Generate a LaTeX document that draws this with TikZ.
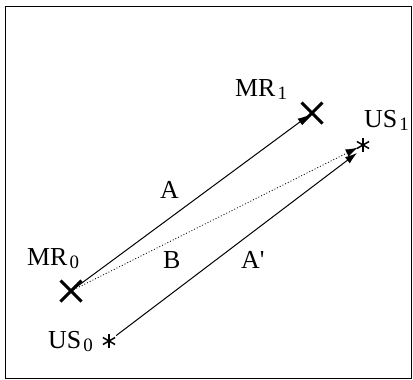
\documentclass[tikz,border=0pt]{standalone}
\usepackage{fontspec}
\setmainfont{Liberation Serif}
\usetikzlibrary{arrows.meta,shapes.misc}
\tikzset{
  crossmark/.style={cross out,draw,line width=3bp,minimum size=18bp,inner sep=0pt},
  starpt/.style={minimum size=14bp,inner sep=0pt},
  lbl/.style={anchor=base west,inner sep=0pt,font=\fontsize{26}{30}\selectfont},
  vec/.style={-{Latex[length=12bp,width=8bp]},line width=1bp},
}
\newcommand{\astr}[1]{%
  \foreach \ang in {90,30,150}
    \draw[line width=1.5bp] (#1.center) ++(\ang:7bp) -- ++(\ang+180:14bp);}
\newcommand{\idx}[1]{\kern2bp\raisebox{-3bp}{\fontsize{19}{22}\selectfont #1}}
\begin{document}
\begin{tikzpicture}[x=1bp,y=-1bp]
\useasboundingbox (0,0) rectangle (413,380);
\draw[line width=1bp] (5,6) rectangle (411,378);
\node[crossmark] (mr0) at (71,291) {};
\node[crossmark] (mr1) at (312,113) {};
\node[starpt] (us0) at (109,341) {};
\node[starpt] (us1) at (363,145) {};
\astr{us0}
\astr{us1}
\coordinate (tipa) at (357,153);
\draw[vec,shorten >=3bp] (mr0.center) -- (mr1.center);
\draw[vec,dotted,line width=0.7bp,shorten >=6bp] (mr0.center) -- (us1.center);
\draw[vec] (us0) -- (tipa);
\node[lbl] (lmr0) at (27,265) {MR\idx{0}};
\node[lbl] (lmr1) at (235,96) {MR\idx{1}};
\node[lbl] (lus0) at (48,348) {US\idx{0}};
\node[lbl] (lus1) at (364,127) {US\idx{1}};
\node[lbl] (la) at (160,198) {A};
\node[lbl] (lb) at (163,268) {B};
\node[lbl] (la2) at (241,268) {A\textquotesingle};
\end{tikzpicture}
\end{document}
